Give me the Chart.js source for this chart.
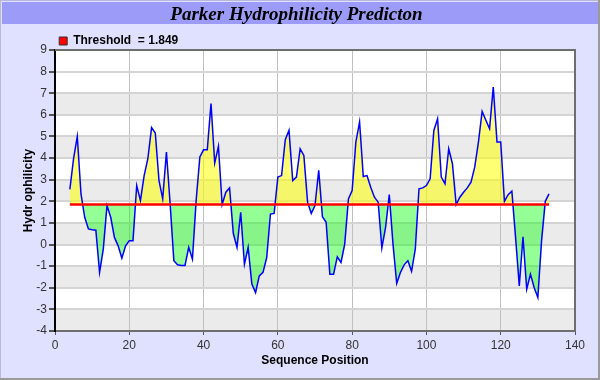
<!DOCTYPE html>
<html>
<head>
<meta charset="utf-8">
<script src="https://cdn.jsdelivr.net/npm/chart.js@4/dist/chart.umd.min.js"></script>
<style>
  html, body { margin: 0; padding: 0; background: #e0e0ff; }
  canvas { display: block; }
</style>
</head>
<body>
<canvas id="c" width="600" height="380"></canvas>
<script>
const TITLE = 'Parker Hydrophilicity Predicton';
const X_TITLE = 'Sequence Position';
const Y_TITLE = 'Hydr ophilicity';
const THRESHOLD = 1.849;
const THRESHOLD_LABEL = 'Threshold  = 1.849';

const positions = [
  4,5,6,7,8,9,10,11,12,13,14,15,16,17,18,19,20,21,22,23,
  24,25,26,27,28,29,30,31,32,33,34,35,36,37,38,39,40,41,42,43,
  44,45,46,47,48,49,50,51,52,53,54,55,56,57,58,59,60,61,62,63,
  64,65,66,67,68,69,70,71,72,73,74,75,76,77,78,79,80,81,82,83,
  84,85,86,87,88,89,90,91,92,93,94,95,96,97,98,99,100,101,102,103,
  104,105,106,107,108,109,110,111,112,113,114,115,116,117,118,119,120,121,122,123,
  124,125,126,127,128,129,130,131,132,133
];
const hydrophilicity = [
  2.55,3.97,5.0,2.34,1.26,0.72,0.68,0.66,-1.29,-0.21,1.8,1.26,0.33,-0.06,-0.63,-0.06,0.18,0.18,2.73,2.03,
  3.19,3.97,5.41,5.16,2.96,2.11,4.28,1.88,-0.75,-0.94,-0.97,-0.97,-0.13,-0.68,2.03,4.05,4.38,4.38,6.52,3.77,
  4.54,1.85,2.42,2.62,0.52,-0.13,1.49,-0.91,-0.13,-1.83,-2.22,-1.45,-1.29,-0.6,1.41,1.44,3.12,3.19,4.85,5.28,
  2.96,3.12,4.43,4.12,1.96,1.44,1.8,3.43,1.29,1.03,-1.37,-1.37,-0.57,-0.83,0.02,2.11,2.5,4.74,5.67,3.15,
  3.19,2.65,2.19,1.96,-0.16,0.79,2.31,0.02,-1.8,-1.29,-0.94,-0.75,-1.24,-0.21,2.58,2.62,2.73,3.04,5.28,5.82,
  3.12,2.81,4.43,3.74,1.85,2.19,2.42,2.62,2.88,3.58,4.74,6.16,5.75,5.36,7.29,4.74,4.74,2.0,2.31,2.47,
  0.33,-1.91,0.36,-2.07,-1.37,-1.99,-2.45,0.18,2.0,2.34
];
const xTicks = [0, 20, 40, 60, 80, 100, 120, 140];
const yTicks = [-4, -3, -2, -1, 0, 1, 2, 3, 4, 5, 6, 7, 8, 9];

const seriesPoints = positions.map((p, i) => ({ x: p, y: hydrophilicity[i] }));
const thresholdPoints = [
  { x: positions[0], y: THRESHOLD },
  { x: positions[positions.length - 1], y: THRESHOLD }
];

const framePlugin = {
  id: 'frame',
  beforeDraw(chart) {
    const ctx = chart.ctx;
    const W = chart.width, H = chart.height;
    ctx.save();
    ctx.fillStyle = '#e0e0ff';
    ctx.fillRect(0, 0, W, H);
    // title bar
    ctx.fillStyle = '#9c9cf8';
    ctx.fillRect(2, 2, W - 4, 22);
    // outer frame
    ctx.fillStyle = '#b8b8dc';
    ctx.fillRect(0, 0, W, 1);
    ctx.fillRect(0, 0, 1, H);
    ctx.fillStyle = '#9a9a9a';
    ctx.fillRect(0, H - 2, W, 2);
    ctx.fillRect(W - 2, 0, 2, H);
    // plot background with alternating bands
    const a = chart.chartArea;
    const y = chart.scales.y;
    ctx.fillStyle = '#ffffff';
    ctx.fillRect(a.left, a.top, a.right - a.left, a.bottom - a.top);
    ctx.fillStyle = '#ebebeb';
    for (let v = -3; v < 9; v += 2) {
      const top = y.getPixelForValue(v);
      const bot = y.getPixelForValue(v - 1);
      ctx.fillRect(a.left, top, a.right - a.left, bot - top);
    }
    ctx.restore();
    // place legend and title like the reference
    const lg = chart.legend;
    if (lg && !lg._shifted) {
      const dx = 58 - lg.left;
      lg.left += dx; lg.right += dx;
      lg.top += 7; lg.bottom += 7;
      lg._shifted = true;
    }
    const tb = chart.titleBlock;
    if (tb && !tb._shifted) {
      tb.left += 9; tb.right += 9;
      tb._shifted = true;
    }
  },
  afterDraw(chart) {
    const ctx = chart.ctx;
    const a = chart.chartArea;
    ctx.save();
    ctx.strokeStyle = '#6e6e6e';
    ctx.lineWidth = 2;
    ctx.beginPath();
    ctx.moveTo(a.left, a.top);
    ctx.lineTo(a.right, a.top);
    ctx.lineTo(a.right, a.bottom);
    ctx.stroke();
    ctx.restore();
  }
};

new Chart(document.getElementById('c'), {
  type: 'line',
  data: {
    datasets: [
      {
        label: THRESHOLD_LABEL,
        data: thresholdPoints,
        borderColor: '#ff0000',
        backgroundColor: '#ff0000',
        borderWidth: 2.5,
        pointRadius: 0,
        fill: false,
        order: 1
      },
      {
        label: 'Hydrophilicity',
        data: seriesPoints,
        borderColor: '#0000ff',
        borderWidth: 1.5,
        pointRadius: 0,
        tension: 0,
        fill: {
          target: { value: THRESHOLD },
          above: 'rgba(255,255,0,0.55)',
          below: 'rgba(0,255,0,0.42)'
        },
        order: 2
      }
    ]
  },
  options: {
    responsive: false,
    animation: false,
    devicePixelRatio: 1,
    layout: { padding: { left: 0, right: 25, top: 0, bottom: 5 } },
    plugins: {
      title: {
        display: true,
        text: TITLE,
        color: '#000000',
        font: { family: '"Liberation Serif", "Times New Roman", serif', size: 19, style: 'italic', weight: 'bold' },
        padding: { top: 4, bottom: 0 }
      },
      legend: {
        display: true,
        position: 'top',
        align: 'start',
        labels: {
          boxWidth: 8,
          boxHeight: 8,
          padding: 1.2,
          color: '#000000',
          font: { family: '"Liberation Sans", Arial, sans-serif', size: 12, weight: 'bold' },
          generateLabels: (chart) => [{
            text: THRESHOLD_LABEL,
            fillStyle: '#ff0000',
            strokeStyle: '#333333',
            lineWidth: 1,
            datasetIndex: 0,
            hidden: false
          }]
        }
      },
      tooltip: { enabled: false }
    },
    scales: {
      x: {
        type: 'linear',
        min: 0,
        max: 140,
        afterFit: (s) => { s.height = 44; },
        afterBuildTicks: (s) => { s.ticks = xTicks.map(v => ({ value: v })); },
        ticks: {
          color: '#333333',
          padding: 3,
          font: { family: '"Liberation Sans", Arial, sans-serif', size: 12 },
          maxRotation: 0
        },
        grid: {
          color: (c) => (c.tick && (c.tick.value === 0 || c.tick.value === 140)) ? 'rgba(0,0,0,0)' : '#c0c0c0',
          lineWidth: 1,
          tickLength: 4,
          tickColor: '#555555'
        },
        border: { color: '#6e6e6e', width: 2 },
        title: {
          display: true,
          text: X_TITLE,
          color: '#000000',
          font: { family: '"Liberation Sans", Arial, sans-serif', size: 12, weight: 'bold' },
          padding: { top: 0, bottom: 7 }
        }
      },
      y: {
        type: 'linear',
        min: -4,
        max: 9,
        afterFit: (s) => { s.width = 55; },
        afterBuildTicks: (s) => { s.ticks = yTicks.map(v => ({ value: v })); },
        ticks: {
          color: '#333333',
          padding: 2,
          font: { family: '"Liberation Sans", Arial, sans-serif', size: 12 }
        },
        grid: {
          color: (c) => (c.tick && (c.tick.value === -4 || c.tick.value === 9)) ? 'rgba(0,0,0,0)' : '#d4d4d4',
          lineWidth: 2,
          tickLength: 6,
          tickColor: '#555555'
        },
        border: { color: '#000000', width: 2 },
        title: {
          display: true,
          text: Y_TITLE,
          color: '#000000',
          font: { family: '"Liberation Sans", Arial, sans-serif', size: 12, weight: 'bold' },
          padding: { top: 21, bottom: 0 }
        }
      }
    }
  },
  plugins: [framePlugin]
});
</script>
</body>
</html>
